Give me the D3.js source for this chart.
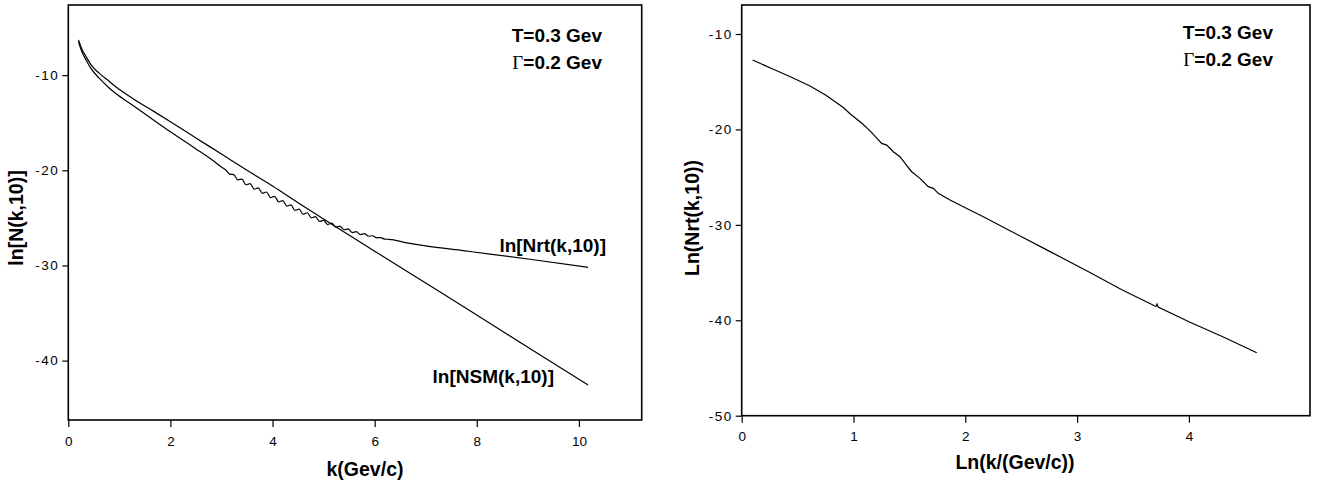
<!DOCTYPE html>
<html>
<head>
<meta charset="utf-8">
<script src="https://cdn.jsdelivr.net/npm/d3@7"></script>
<style>
  body { margin: 0; background: #fff; }
  text { font-family: "Liberation Sans", Arial, sans-serif; fill: #000; }
  .tick text { font-size: 13.5px; }
  .ytick text { letter-spacing: 1.5px; }
  .title { font-size: 19.5px; font-weight: bold; }
  .note { font-size: 19px; font-weight: bold; }
  .gam { font-family: "Liberation Serif", "Times New Roman", serif; font-weight: normal; }
</style>
</head>
<body>
<div id="chart"></div>
<script>
// left panel: ln N(k,10) vs k
const nsmK = [0.2, 0.27, 0.35, 0.45, 0.61, 0.8, 0.93, 1.26, 1.69, 2.0, 2.5, 3.0, 3.5, 4.0, 4.5, 5.16, 6.0, 7.0, 8.0, 9.0, 10.18];
const nsmV = [-6.3, -7.3, -8.07, -8.95, -9.82, -10.65, -11.23, -12.45, -13.86, -14.9, -16.6, -18.3, -20.0, -21.65, -23.4, -25.68, -28.5, -31.85, -35.2, -38.6, -42.56];

const nrtK = [0.2, 0.27, 0.35, 0.45, 0.61, 0.8, 0.93, 1.26, 1.6, 2.0, 2.5, 2.8,
  3.00, 3.08, 3.16, 3.24, 3.32, 3.40, 3.48, 3.56, 3.64, 3.72, 3.80, 3.88, 3.96,
  4.04, 4.12, 4.20, 4.28, 4.36, 4.44, 4.52, 4.60, 4.68, 4.76, 4.84, 4.92, 5.00,
  5.08, 5.16, 5.24, 5.32, 5.40, 5.48, 5.56, 5.64, 5.72, 5.80, 5.88, 5.96, 6.04,
  6.12, 6.20, 6.28, 6.63, 7.0, 7.74, 8.26, 9.04, 10.18];
const nrtV = [-6.5, -7.6, -8.42, -9.35, -10.35, -11.35, -11.93, -13.16, -14.45, -15.95, -17.75, -18.85,
  -19.65, -19.95, -20.40, -20.45, -21.00, -20.92, -21.52, -21.40, -21.97, -21.84, -22.42, -22.28, -22.87,
  -22.74, -23.32, -23.18, -23.76, -23.64, -24.21, -24.08, -24.62, -24.46, -25.00, -24.86, -25.37, -25.25,
  -25.70, -25.55, -25.98, -25.86, -26.25, -26.16, -26.54, -26.45, -26.75, -26.66, -26.93, -26.88, -27.10,
  -27.07, -27.24, -27.25, -27.62, -27.95, -28.45, -28.8, -29.35, -30.2];

// right panel: Ln Nrt vs Ln k
const lnK = [0.098, 0.283, 0.45, 0.611, 0.75, 0.909, 0.969, 1.08, 1.148, 1.2, 1.252, 1.297, 1.356, 1.416,
  1.461, 1.52, 1.595, 1.669, 1.714, 1.758, 1.863, 2.0, 2.161, 2.4, 2.75, 3.115, 3.4, 3.705, 3.715, 3.725,
  4.01, 4.308, 4.607];
const lnNrt = [-12.73, -13.7, -14.55, -15.45, -16.4, -17.7, -18.35, -19.4, -20.15, -20.8, -21.46, -21.64, -22.34, -22.86,
  -23.56, -24.43, -25.13, -26.0, -26.17, -26.7, -27.4, -28.2, -29.15, -30.62, -32.75, -35.0, -36.8, -38.55, -38.3, -38.62,
  -40.2, -41.75, -43.41];

const leftXTicks = [0, 2, 4, 6, 8, 10];
const leftYTicks = [-10, -20, -30, -40];
const rightXTicks = [0, 1, 2, 3, 4];
const rightYTicks = [-10, -20, -30, -40, -50];

const svg = d3.select("#chart").append("svg")
  .attr("width", 1317)
  .attr("height", 483);

function panel(box, xDom, yDom, xTicks, yTicks) {
  const x = d3.scaleLinear().domain(xDom).range([box.left, box.right]);
  const y = d3.scaleLinear().domain(yDom).range([box.bottom, box.top]);

  svg.append("g")
    .attr("transform", `translate(0, ${box.bottom})`)
    .call(d3.axisBottom(x).tickValues(xTicks).tickSize(7).tickSizeOuter(0).tickPadding(9).tickFormat(d => d))
    .call(g => g.select(".domain").remove())
    .call(g => g.selectAll("line").attr("stroke-width", 1.2));

  svg.append("g")
    .attr("class", "ytick")
    .attr("transform", `translate(${box.left}, 0)`)
    .call(d3.axisLeft(y).tickValues(yTicks).tickSize(6).tickSizeOuter(0).tickPadding(3).tickFormat(d => d))
    .call(g => g.select(".domain").remove())
    .call(g => g.selectAll("line").attr("stroke-width", 1.2));

  svg.append("rect")
    .attr("x", box.left)
    .attr("y", box.top)
    .attr("width", box.right - box.left)
    .attr("height", box.bottom - box.top)
    .attr("fill", "none")
    .attr("stroke", "#000")
    .attr("stroke-width", 1.6);

  return { x, y };
}

const line = (sc, xs, ys, curve) => d3.line()
  .curve(curve)
  .x((d, i) => sc.x(xs[i]))
  .y((d, i) => sc.y(ys[i]))(xs);

// left
const L = panel({ left: 68.3, right: 641.7, top: 5, bottom: 420 }, [0, 11.23], [-46.24, -2.63], leftXTicks, leftYTicks);

svg.append("path").attr("d", line(L, nsmK, nsmV, d3.curveMonotoneX))
  .attr("fill", "none").attr("stroke", "#000").attr("stroke-width", 1.2);
svg.append("path").attr("d", line(L, nrtK, nrtV, d3.curveMonotoneX))
  .attr("fill", "none").attr("stroke", "#000").attr("stroke-width", 1.2);

svg.append("text").attr("class", "title")
  .attr("x", 365).attr("y", 476).attr("text-anchor", "middle")
  .text("k(Gev/c)");
svg.append("text").attr("class", "title")
  .attr("transform", "translate(23, 218) rotate(-90)").attr("text-anchor", "middle")
  .text("ln[N(k,10)]");

svg.append("text").attr("class", "note")
  .attr("x", 602).attr("y", 42).attr("text-anchor", "end").text("T=0.3 Gev");
const g1 = svg.append("text").attr("class", "note")
  .attr("x", 602).attr("y", 69).attr("text-anchor", "end");
g1.append("tspan").attr("class", "gam").text("Γ");
g1.append("tspan").text("=0.2 Gev");

svg.append("text").attr("class", "note")
  .attr("x", 606).attr("y", 252).attr("text-anchor", "end").text("ln[Nrt(k,10)]");
svg.append("text").attr("class", "note")
  .attr("x", 554).attr("y", 383).attr("text-anchor", "end").text("ln[NSM(k,10)]");

// right
const R = panel({ left: 741.7, right: 1310, top: 5, bottom: 415.7 }, [0, 5.083], [-50, -6.96], rightXTicks, rightYTicks);

svg.append("path").attr("d", line(R, lnK, lnNrt, d3.curveLinear))
  .attr("fill", "none").attr("stroke", "#000").attr("stroke-width", 1.2);

svg.append("text").attr("class", "title")
  .attr("x", 1015).attr("y", 469).attr("text-anchor", "middle")
  .text("Ln(k/(Gev/c))");
svg.append("text").attr("class", "title")
  .attr("transform", "translate(699, 218) rotate(-90)").attr("text-anchor", "middle")
  .text("Ln(Nrt(k,10))");

svg.append("text").attr("class", "note")
  .attr("x", 1273).attr("y", 39).attr("text-anchor", "end").text("T=0.3 Gev");
const g2 = svg.append("text").attr("class", "note")
  .attr("x", 1273).attr("y", 66).attr("text-anchor", "end");
g2.append("tspan").attr("class", "gam").text("Γ");
g2.append("tspan").text("=0.2 Gev");
</script>
</body>
</html>
